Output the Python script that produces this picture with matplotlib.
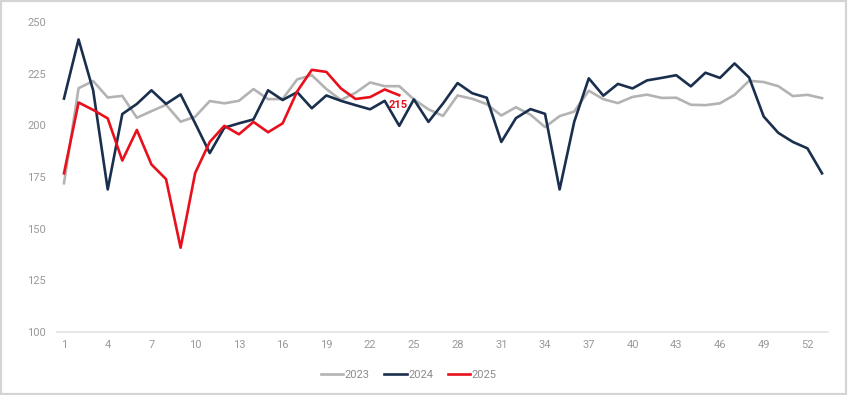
import matplotlib.pyplot as plt
from matplotlib.patches import Rectangle

weeks_2023 = list(range(1, 54))
values_2023 = [172, 218, 221.5, 213.5, 214.3, 203.7, 206.9, 210, 201.8, 204.2,
               211.8, 210.7, 211.9, 217.6, 212.7, 212.8, 222.3, 224.3, 217.6, 212.3,
               215.8, 220.8, 219, 219, 212.6, 207.8, 204.6, 214.5, 212.9, 210.3,
               204.8, 208.8, 205.2, 199.2, 204.5, 206.7, 216.8, 212.7, 210.8, 213.8,
               214.9, 213.3, 213.4, 210, 209.8, 210.7, 214.8, 221.6, 221, 219,
               214.2, 214.8, 213.2]

weeks_2024 = list(range(1, 54))
values_2024 = [213, 241.6, 217, 169, 205.5, 210.4, 217, 210.4, 215, 201,
               186.6, 198.9, 201, 202.9, 217, 212.3, 216.1, 208.3, 214.5, 211.9,
               209.8, 207.8, 211.9, 199.8, 212.6, 201.7, 210.6, 220.5, 215.6, 213.4,
               192, 203.5, 207.9, 205.6, 169, 201.7, 222.8, 214.4, 220.1, 217.9,
               221.8, 223, 224.3, 218.9, 225.5, 223, 230, 223.2, 204.3, 196.4,
               192, 188.9, 176.8]

weeks_2025 = list(range(1, 25))
values_2025 = [176.8, 211.1, 207.5, 203.4, 183, 197.8, 181.1, 174, 140.8, 177,
               192, 199.8, 195.7, 201.7, 196.7, 201, 216.5, 226.9, 225.9, 217.9,
               212.8, 213.7, 217.4, 214.6]

xticks = list(range(1, 53, 3))
yticks = [100, 125, 150, 175, 200, 225, 250]

fig = plt.figure(figsize=(8.48, 3.95), dpi=100)
fig.patches.append(Rectangle((0.001, 0.003), 0.997, 0.994, transform=fig.transFigure,
                             fill=False, edgecolor="#d4d4d4", linewidth=1.6))
ax = fig.add_axes([0.0672, 0.1595, 0.9092, 0.7845])

ax.plot(weeks_2023, values_2023, color="#b3b3b3", lw=1.9, label="2023")
ax.plot(weeks_2024, values_2024, color="#1a2f4d", lw=1.9, label="2024")
ax.plot(weeks_2025, values_2025, color="#e8101c", lw=1.9, label="2025")

# letzte Woche 2025 beschriften
ax.annotate(f"{values_2025[-1]:.0f}", (weeks_2025[-1], values_2025[-1]),
            xytext=(-0.5, -7), textcoords="offset points", ha="center", va="center",
            color="#e8101c", fontsize=8, fontweight="bold", family="Roboto")

ax.set_xlim(0.52, 53.41)
ax.set_ylim(100, 250)
ax.set_xticks(xticks)
ax.set_yticks(yticks)
ax.tick_params(length=0, colors="#999999", labelsize=8)
ax.tick_params(axis="x", pad=6)
ax.tick_params(axis="y", pad=8)
for lab in ax.get_xticklabels() + ax.get_yticklabels():
    lab.set_family("Roboto")

for side in ["top", "right", "left"]:
    ax.spines[side].set_visible(False)
ax.spines["bottom"].set_color("#e3e3e3")
ax.spines["bottom"].set_linewidth(1.2)

leg = fig.legend(loc="center", bbox_to_anchor=(0.482, 0.05), ncol=3, frameon=False,
                 handlelength=2.0, handletextpad=0.15, columnspacing=1.3,
                 prop={"family": "Roboto", "size": 8})
for t in leg.get_texts():
    t.set_color("#8c8c8c")

fig.savefig("out.png", dpi=100)
